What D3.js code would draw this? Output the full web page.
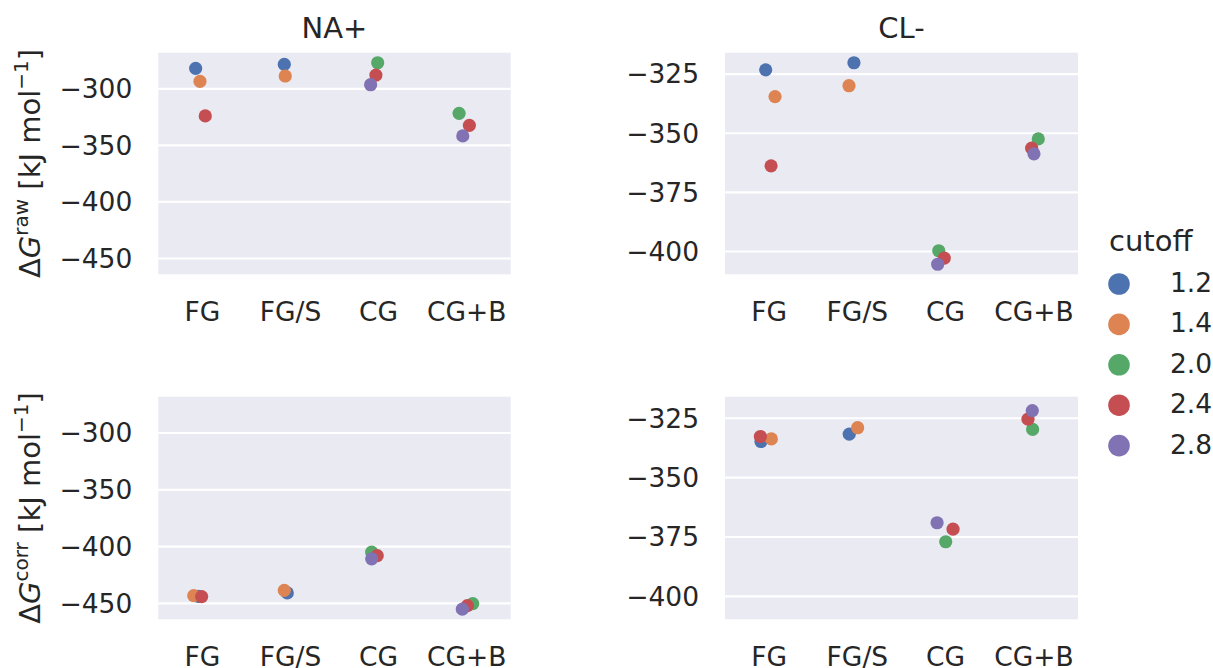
<!DOCTYPE html>
<html>
<head>
<meta charset="utf-8">
<script src="https://cdn.jsdelivr.net/npm/d3@7"></script>
<style>
  html, body { margin: 0; padding: 0; background: #ffffff; }
  svg { display: block; }
  text { font-family: "DejaVu Sans", sans-serif; fill: #262626; }
</style>
</head>
<body>
<svg id="chart" width="1213" height="668"></svg>
<script>
// Categories along x and the hue levels (cutoff)
const categories = ["FG", "FG/S", "CG", "CG+B"];
const cutoffs = ["1.2", "1.4", "2.0", "2.4", "2.8"];
const palette = ["#4c72b0", "#dd8452", "#55a868", "#c44e52", "#8172b3"];

// Free energies in kJ/mol: [category, cutoff, value]
const naRaw = [
  ["FG", "1.2", -282.3], ["FG/S", "1.2", -278.8],
  ["FG", "1.4", -293.8], ["FG/S", "1.4", -289.1],
  ["CG", "2.0", -277.4], ["CG+B", "2.0", -322.1],
  ["FG", "2.4", -324.4], ["CG", "2.4", -288.3], ["CG+B", "2.4", -332.7],
  ["CG", "2.8", -296.8], ["CG+B", "2.8", -342.1]
];
const clRaw = [
  ["FG", "1.2", -323.4], ["FG/S", "1.2", -320.4],
  ["FG", "1.4", -334.7], ["FG/S", "1.4", -330.1],
  ["CG", "2.0", -399.9], ["CG+B", "2.0", -352.6],
  ["FG", "2.4", -364.0], ["CG", "2.4", -403.0], ["CG+B", "2.4", -356.5],
  ["CG", "2.8", -405.6], ["CG+B", "2.8", -358.9]
];
const naCorr = [
  ["FG", "1.2", -444.2], ["FG/S", "1.2", -441.2],
  ["FG", "1.4", -443.6], ["FG/S", "1.4", -438.9],
  ["CG", "2.0", -405.3], ["CG+B", "2.0", -450.6],
  ["FG", "2.4", -444.4], ["CG", "2.4", -408.3], ["CG+B", "2.4", -452.4],
  ["CG", "2.8", -411.2], ["CG+B", "2.8", -455.5]
];
const clCorr = [
  ["FG", "1.2", -335.0], ["FG/S", "1.2", -331.9],
  ["FG", "1.4", -333.9], ["FG/S", "1.4", -329.2],
  ["CG", "2.0", -377.2], ["CG+B", "2.0", -329.9],
  ["FG", "2.4", -332.9], ["CG", "2.4", -371.9], ["CG+B", "2.4", -325.6],
  ["CG", "2.8", -369.2], ["CG+B", "2.8", -322.0]
];

// Strip jitter, in fractions of a category band (same order as the rows above)
const naRawJitter  = [-0.076, -0.070, -0.027, -0.059, -0.010, -0.086, 0.033, -0.030, 0.031, -0.090, -0.044];
const clRawJitter  = [-0.039, -0.039, 0.067, -0.095, -0.078, 0.050, 0.022, -0.015, -0.025, -0.090, 0.001];
const naCorrJitter = [-0.047, -0.036, -0.098, -0.070, -0.078, 0.069, -0.008, -0.015, 0.008, -0.078, -0.049];
const clCorrJitter = [-0.092, -0.092, 0.025, 0.003, 0.001, -0.014, -0.099, 0.084, -0.067, -0.097, -0.018];

// Tick values for each column
const naTicks = [-300, -350, -400, -450];
const clTicks = [-325, -350, -375, -400];

const svg = d3.select("#chart");
const fmt = v => String(v).replace("-", "\u2212");

const colX = [[158.3, 510.7], [725, 1078]];
const rowY = [[52.7, 274.3], [396.7, 619.3]];

// shared y domain per column with 5% margins
function paddedDomain(rows) {
  const ext = d3.extent(rows, d => d[2]);
  const r = ext[1] - ext[0];
  return [ext[0] - 0.05 * r, ext[1] + 0.05 * r];
}
const naDomain = paddedDomain(naRaw.concat(naCorr));
const clDomain = paddedDomain(clRaw.concat(clCorr));

const color = d3.scaleOrdinal().domain(cutoffs).range(palette);

const panels = [
  { rows: naRaw,  jitter: naRawJitter,  col: 0, row: 0, domain: naDomain, ticks: naTicks, title: "NA+", sup: "raw" },
  { rows: clRaw,  jitter: clRawJitter,  col: 1, row: 0, domain: clDomain, ticks: clTicks, title: "CL-" },
  { rows: naCorr, jitter: naCorrJitter, col: 0, row: 1, domain: naDomain, ticks: naTicks, sup: "corr" },
  { rows: clCorr, jitter: clCorrJitter, col: 1, row: 1, domain: clDomain, ticks: clTicks }
];

panels.forEach(p => {
  const [x0, x1] = colX[p.col];
  const [y0, y1] = rowY[p.row];
  const x = d3.scaleBand().domain(categories).range([x0, x1]).paddingInner(0).paddingOuter(0);
  const y = d3.scaleLinear().domain(p.domain).range([y1, y0]);
  const g = svg.append("g");

  g.append("rect")
    .attr("x", x0).attr("y", y0)
    .attr("width", x1 - x0).attr("height", y1 - y0)
    .attr("fill", "#eaeaf2");

  // horizontal grid
  const yAxis = d3.axisLeft(y).tickValues(p.ticks).tickSize(-(x1 - x0)).tickFormat(fmt).tickPadding(26);
  const ya = g.append("g").attr("transform", `translate(${x0},0)`).call(yAxis);
  ya.select(".domain").remove();
  ya.selectAll(".tick line").attr("stroke", "#ffffff").attr("stroke-width", 2.2);
  ya.selectAll(".tick text")
    .attr("x", -26)
    .style("font-size", "26.5px")
    .style("font-family", "DejaVu Sans")
    .attr("fill", "#262626")
    .attr("dy", "0.35em");

  // category labels
  const xAxis = d3.axisBottom(x).tickSize(0).tickPadding(0);
  const xa = g.append("g").attr("transform", `translate(0,${y1})`).call(xAxis);
  xa.select(".domain").remove();
  xa.selectAll(".tick text")
    .attr("y", 46.4).attr("dy", 0)
    .style("font-size", "26.5px")
    .style("font-family", "DejaVu Sans")
    .attr("fill", "#262626");

  // points
  g.append("g").selectAll("circle")
    .data(p.rows)
    .join("circle")
    .attr("cx", (d, i) => x(d[0]) + x.bandwidth() * (0.5 + p.jitter[i]))
    .attr("cy", d => y(d[2]))
    .attr("r", 6.6)
    .attr("fill", d => color(d[1]));

  if (p.title) {
    g.append("text")
      .attr("x", (x0 + x1) / 2).attr("y", 38.3)
      .attr("text-anchor", "middle")
      .style("font-size", "29px")
      .text(p.title);
  }

  if (p.sup) {
    const lbl = g.append("text")
      .attr("transform", `translate(40,${(y0 + y1) / 2}) rotate(-90)`)
      .attr("text-anchor", "middle")
      .style("font-size", "29px");
    lbl.append("tspan").text("\u0394");
    lbl.append("tspan").style("font-style", "italic").text("G");
    lbl.append("tspan").attr("dy", -12).style("font-size", "20px").text(p.sup);
    lbl.append("tspan").attr("dy", 12).text("\u00a0[kJ mol");
    lbl.append("tspan").attr("dy", -12).style("font-size", "20px").text("\u22121");
    lbl.append("tspan").attr("dy", 12).text("]");
  }
});

// legend
const legend = svg.append("g");
legend.append("text")
  .attr("x", 1109).attr("y", 250.5)
  .style("font-size", "29px")
  .text("cutoff");
const items = legend.selectAll("g.item")
  .data(cutoffs)
  .join("g")
  .attr("class", "item")
  .attr("transform", (d, i) => `translate(1119,${284 + i * 40.4})`);
items.append("circle").attr("r", 10.8).attr("fill", d => color(d));
items.append("text")
  .attr("x", 51).attr("y", 8)
  .style("font-size", "26.5px")
  .text(d => d);
</script>
</body>
</html>
